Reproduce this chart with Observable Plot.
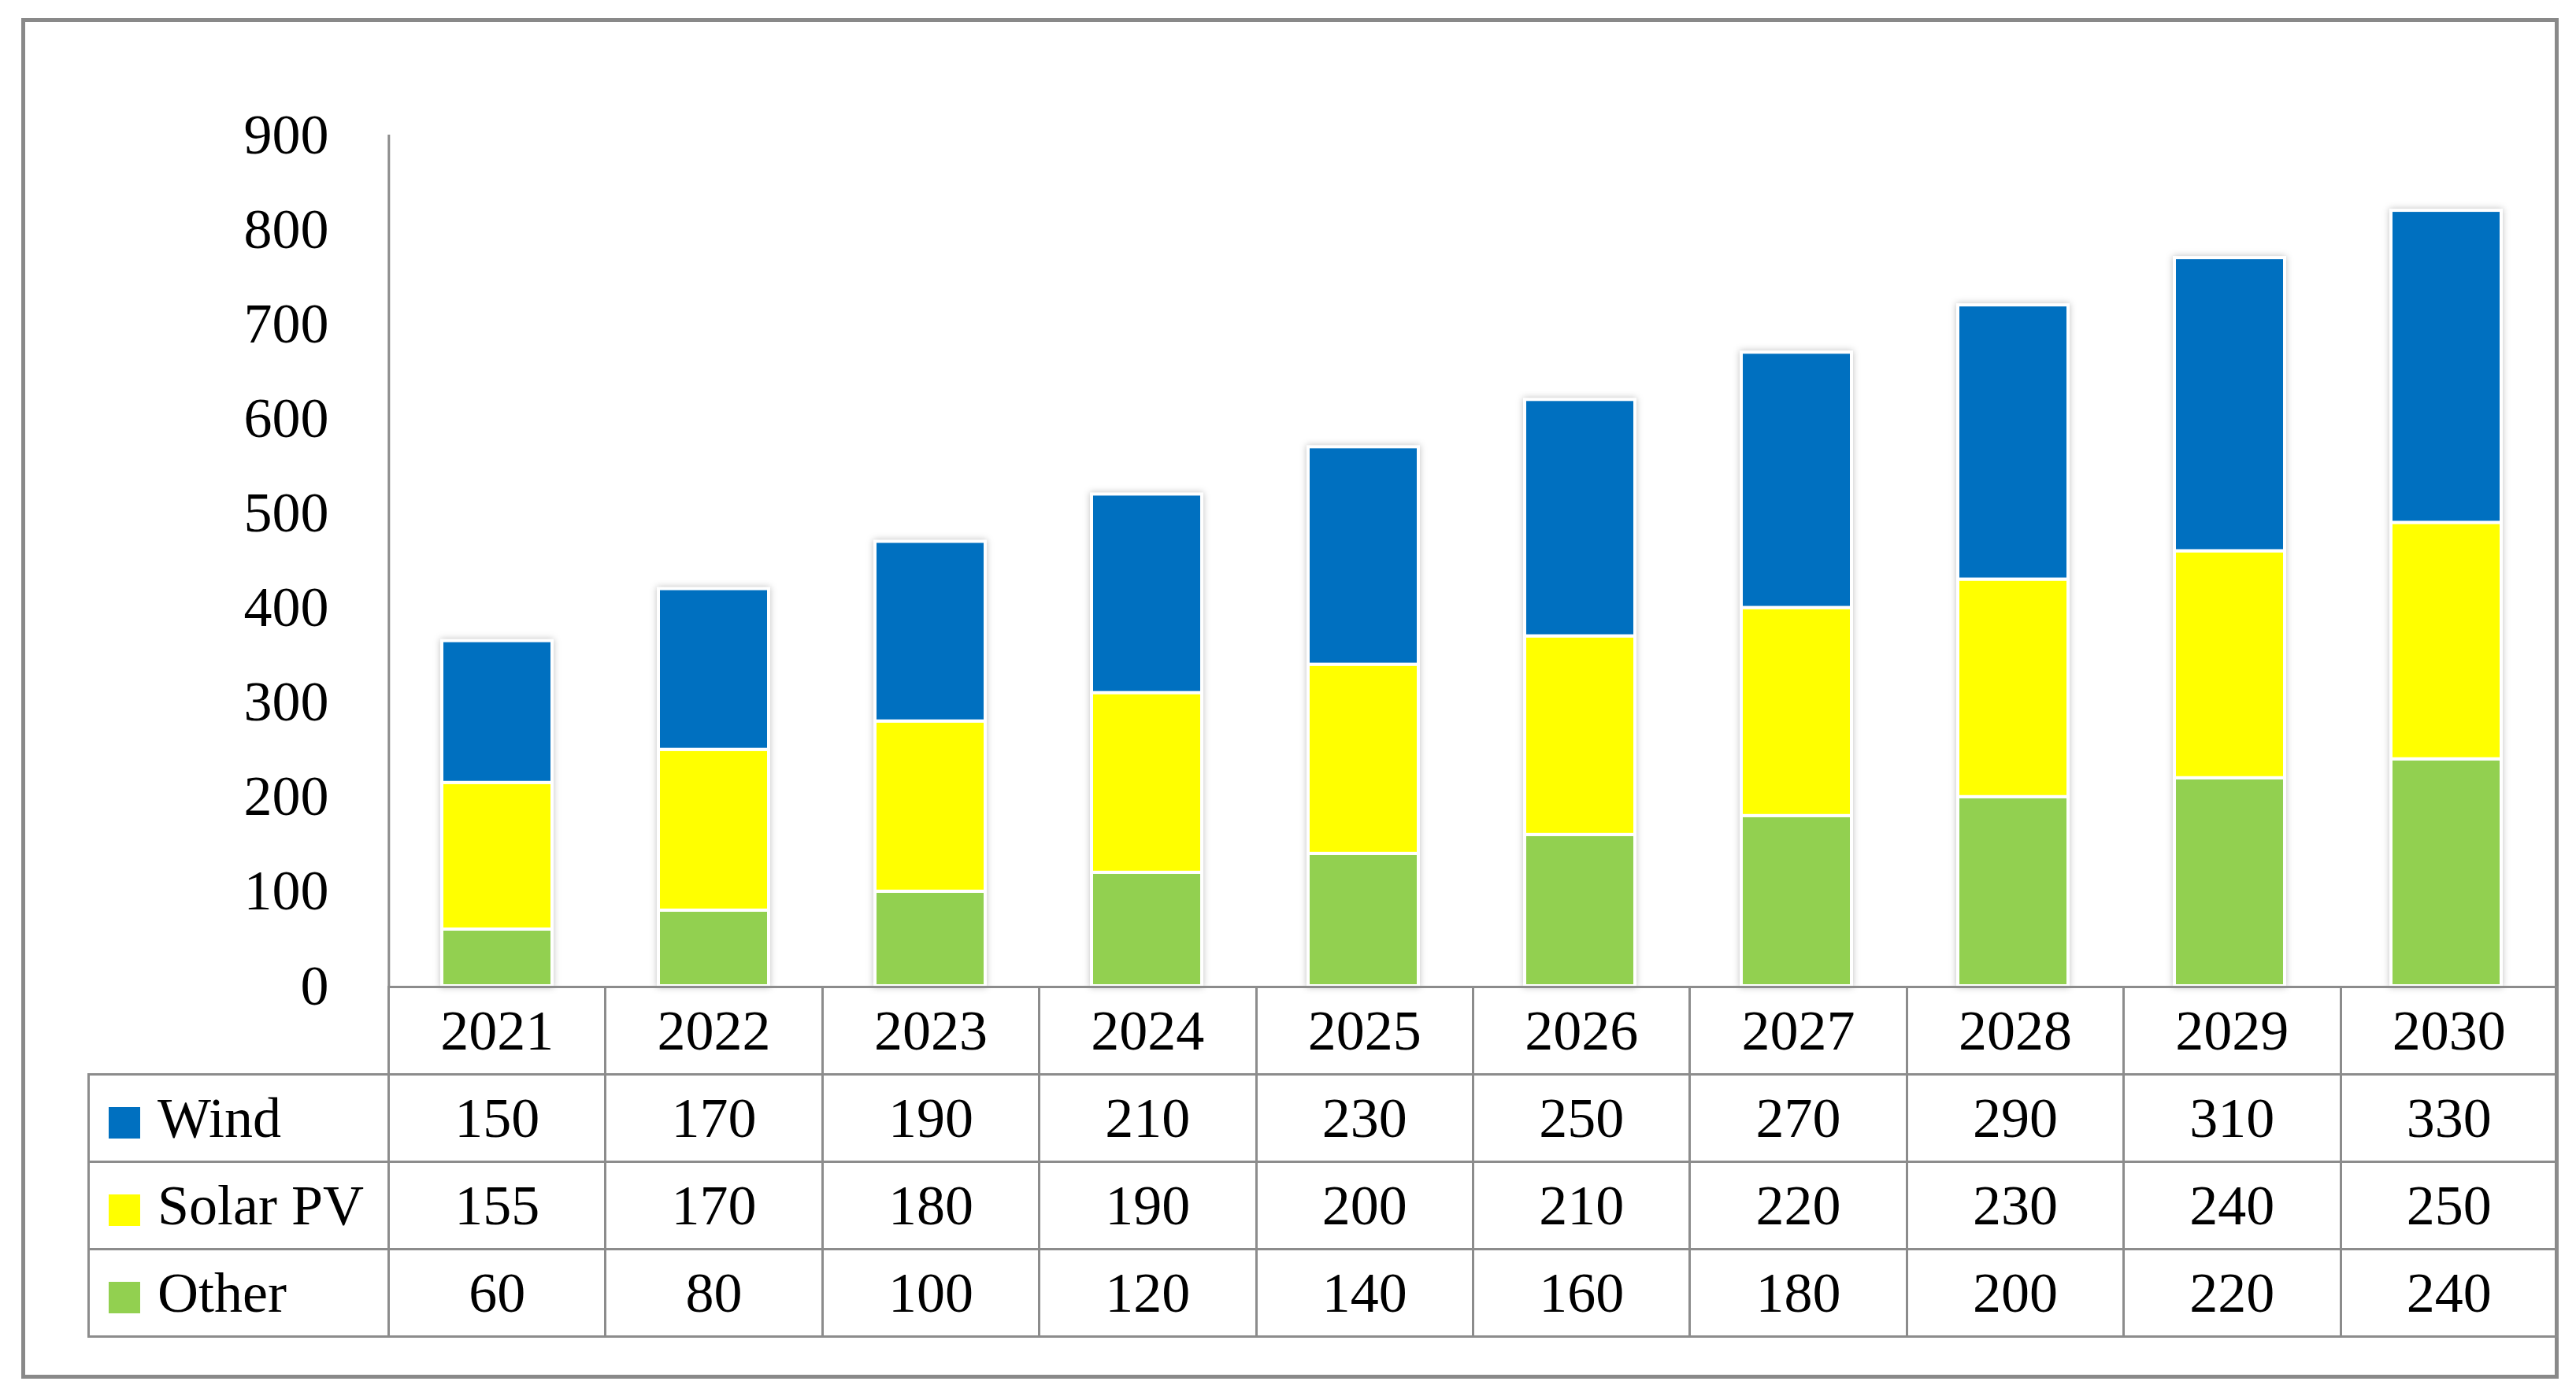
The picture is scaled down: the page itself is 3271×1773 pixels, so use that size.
<!DOCTYPE html>
<html>
<head>
<meta charset="utf-8">
<script src="https://cdn.jsdelivr.net/npm/d3@7"></script>
<script src="https://cdn.jsdelivr.net/npm/@observablehq/plot@0.6"></script>
<style>
  html, body { margin: 0; padding: 0; background: #ffffff; }
  #page { position: relative; width: 3271px; height: 1773px; overflow: hidden; background: #fff;
          font-family: "Liberation Serif", "DejaVu Serif", serif; color: #000; }
  #outer { position: absolute; left: 27px; top: 23px; width: 3222px; height: 1728px;
           border: 5px solid #898989; box-sizing: border-box; }
  #chart { position: absolute; left: 0; top: 0; }
  #chart svg { overflow: visible; }
  #chart g[aria-label="bar"] { filter: drop-shadow(0px 0px 4px rgba(0,0,0,0.25)); }
  table#datatable { position: absolute; left: 111px; top: 1252px; border-collapse: collapse;
                    table-layout: fixed; font-family: "Liberation Serif", serif; font-size: 72px; }
  table#datatable td { border: 3px solid #8c8c8c; height: 108px; padding: 0; text-align: center;
                       vertical-align: middle; white-space: nowrap; line-height: 1; }
  table#datatable td.cat { text-align: left; padding-left: 24px; }
  table#datatable td.blank { border-top: none; border-left: none; border-bottom: none; }
  .swatch { display: inline-block; width: 40px; height: 40px; margin-right: 22px; vertical-align: -2px; }
</style>
</head>
<body>
<div id="page">
  <div id="outer"></div>
  <div id="chart"></div>
</div>
<script>
const years = ["2021","2022","2023","2024","2025","2026","2027","2028","2029","2030"];
const wind  = [150,170,190,210,230,250,270,290,310,330];
const solar = [155,170,180,190,200,210,220,230,240,250];
const other = [60,80,100,120,140,160,180,200,220,240];
const seriesNames = ["Wind","Solar PV","Other"];
const seriesColors = ["#0070C0","#FFFF00","#92D050"];
const yTicks = [0,100,200,300,400,500,600,700,800,900];

const seriesValues = {"Wind": wind, "Solar PV": solar, "Other": other};
// stacking order bottom -> top: Other, Solar PV, Wind
const stackOrder = ["Other","Solar PV","Wind"];
const rows = [];
for (const s of stackOrder) {
  years.forEach((yr, i) => rows.push({year: yr, series: s, value: seriesValues[s][i]}));
}

const W = 3271;
const mLeft = 492, mRight = 25, mTop = 171, baseY = 1252;
const H = baseY + 4;
const colW = (W - mLeft - mRight) / years.length;

const plot = Plot.plot({
  width: W,
  height: H,
  marginLeft: mLeft,
  marginRight: mRight,
  marginTop: mTop,
  marginBottom: H - baseY,
  style: {background: "transparent", fontFamily: "'Liberation Serif', serif", fontSize: "72px", color: "#000"},
  x: {domain: years, paddingInner: 0.49, paddingOuter: 0.245, align: 0.5, axis: null},
  y: {domain: [0, 900], ticks: yTicks, tickSize: 0, tickPadding: 75, label: null, tickFormat: d => String(d)},
  color: {domain: seriesNames, range: seriesColors},
  marks: [
    Plot.barY(rows, Plot.stackY({order: stackOrder}, {
      x: "year", y: "value", fill: "series", stroke: "#ffffff", strokeWidth: 4, inset: 0
    })),
    Plot.ruleX([years[0]], {dx: -colW / 2, stroke: "#8c8c8c", strokeWidth: 3, y1: 0, y2: 900})
  ]
});
document.getElementById("chart").appendChild(plot);

// data table below the chart
const table = d3.select("#page").append("table").attr("id", "datatable");
const cg = table.append("colgroup");
cg.append("col").style("width", (mLeft - 111) + "px");
years.forEach(() => cg.append("col").style("width", colW + "px"));
const tb = table.append("tbody");
const head = tb.append("tr");
head.append("td").attr("class", "blank");
years.forEach(y => head.append("td").text(y));
seriesNames.forEach((s, k) => {
  const tr = tb.append("tr");
  const c = tr.append("td").attr("class", "cat");
  c.append("span").attr("class", "swatch").style("background", seriesColors[k]);
  c.append("span").text(s);
  seriesValues[s].forEach(v => tr.append("td").text(v));
});
</script>
</body>
</html>
